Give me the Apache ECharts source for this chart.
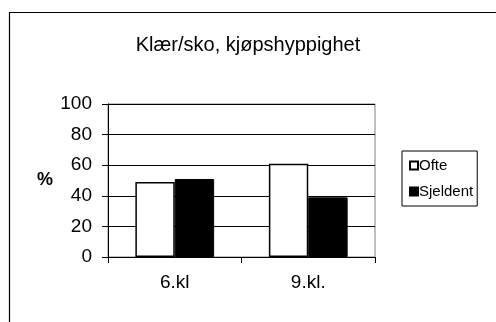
<!DOCTYPE html>
<html><head><meta charset="utf-8">
<script src="https://cdn.jsdelivr.net/npm/echarts@6/dist/echarts.min.js"></script>
<style>html,body{margin:0;padding:0;background:#fff}#c{width:496px;height:322px}</style>
</head><body><div id="c"></div>
<script>
var categories = ['6.kl', '9.kl.'];
var ofte = [49, 61];
var sjeldent = [51, 39];
var yTicks = [0, 20, 40, 60, 80, 100];
var titleText = 'Klær/sko, kjøpshyppighet';
var yName = '%';

var F = '"Liberation Sans", Arial, sans-serif';
var chart = echarts.init(document.getElementById('c'), null, {renderer: 'canvas'});
chart.setOption({
  animation: false,
  backgroundColor: '#fff',
  title: {text: titleText, left: 'center', top: 30, textStyle: {fontFamily: F, fontSize: 20, fontWeight: 'normal', color: '#000'}},
  graphic: [
    {type: 'rect', shape: {x: 9.5, y: 12.5, width: 600, height: 400}, style: {fill: 'none', stroke: '#000', lineWidth: 1.2}, silent: true},
    {type: 'text', left: 37, top: 171, style: {text: yName, font: 'bold 18px ' + F, fill: '#000'}}
  ],
  grid: {left: 108, top: 104, width: 267, height: 153, show: true, borderColor: '#808080', borderWidth: 1, backgroundColor: 'transparent'},
  legend: {
    orient: 'vertical', left: 402, top: 151, width: 85, height: 52,
    padding: [7, 4, 7, 7], itemGap: 11,
    borderColor: '#000', borderWidth: 1,
    itemWidth: 8, itemHeight: 8, icon: 'rect',
    textStyle: {fontFamily: F, fontSize: 15, color: '#000', padding: [0, 0, 0, -4]},
    data: ['Ofte', 'Sjeldent']
  },
  xAxis: {
    type: 'category', data: categories,
    axisLine: {lineStyle: {color: '#000', width: 1}},
    axisTick: {show: true, length: 6, lineStyle: {color: '#000'}},
    axisLabel: {fontFamily: F, fontSize: 19, color: '#000', margin: 16}
  },
  yAxis: {
    type: 'value', min: yTicks[0], max: yTicks[yTicks.length - 1], interval: yTicks[1] - yTicks[0],
    axisLine: {show: true, lineStyle: {color: '#000', width: 1}},
    axisTick: {show: true, length: 6, lineStyle: {color: '#000'}},
    axisLabel: {fontFamily: F, fontSize: 19, color: '#000', margin: 16},
    splitLine: {show: true, lineStyle: {color: '#000', width: 1}}
  },
  series: [
    {name: 'Ofte', type: 'bar', data: ofte, barGap: '0%', barCategoryGap: '41%',
     itemStyle: {color: '#fff', borderColor: '#000', borderWidth: 1.5}},
    {name: 'Sjeldent', type: 'bar', data: sjeldent, barGap: '0%', barCategoryGap: '41%',
     itemStyle: {color: '#000', borderColor: '#000', borderWidth: 1}}
  ]
});
</script></body></html>
